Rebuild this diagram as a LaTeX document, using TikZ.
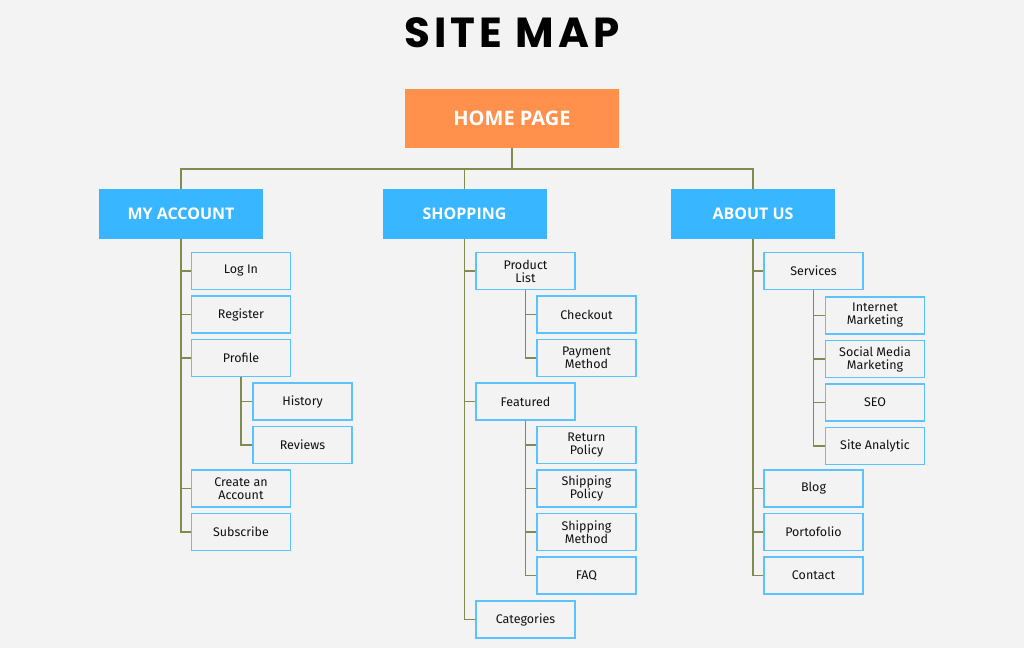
\documentclass[tikz,border=0pt]{standalone}
\usepackage{fontspec}
\setmainfont{Fira Sans}
\newfontfamily\titlefont[LetterSpace=10]{Poppins Bold}
\newfontfamily\headfont{Open Sans Bold}
\usetikzlibrary{positioning, calc}
\definecolor{bgcol}{HTML}{F3F3F3}
\definecolor{homecol}{HTML}{FF914D}
\definecolor{headcol}{HTML}{38B6FF}
\definecolor{leafedge}{HTML}{5CC1FF}
\definecolor{linkcol}{HTML}{7F8B4F}
\definecolor{txtcol}{HTML}{111111}

\tikzset{
  home/.style={fill=homecol, text=white, font=\headfont\fontsize{20}{22}\selectfont, minimum width=214pt, minimum height=59pt, inner sep=0pt, text depth=0pt},
  head/.style={fill=headcol, text=white, font=\headfont\fontsize{16}{18}\selectfont, minimum width=164pt, minimum height=50pt, inner sep=0pt, text depth=0pt},
  leaf/.style={draw=leafedge, line width=1.2pt, fill=bgcol, text=txtcol, font=\fontsize{12.5}{13}\selectfont, align=center, minimum width=99pt, minimum height=37pt, inner sep=0pt},
  link/.style={draw=linkcol, line width=1.3pt}
}

\begin{document}
\begin{tikzpicture}[x=1pt, y=-1pt]
\fill[bgcol] (0,0) rectangle (1024,648);
\useasboundingbox (0,0) rectangle (1024,648);

% Title
\node[font=\titlefont\fontsize{42}{44}\selectfont] (title) at (512,33) {SITE MAP};

% Top levels
\node[home] (home) at (512,118.5) {HOME PAGE};
\coordinate (bus) at (512,169);
\node[head] (acc) at (181,214) {MY ACCOUNT};
\node[head] (shop) at (464.5,214) {SHOPPING};
\node[head] (about) at (753,214) {ABOUT US};

\draw[link] (home.south) -- (bus);
\draw[link] (bus) -| (acc.north);
\draw[link] (bus) -| (shop.north);
\draw[link] (bus) -| (about.north);

% My account
\node[leaf] (login) at (241,271) {Log In};
\node[leaf] (register) at (241,314.5) {Register};
\node[leaf] (profile) at (241,358) {Profile};
\node[leaf] (history) at (302.5,401.5) {History};
\node[leaf] (reviews) at (302.5,445) {Reviews};
\node[leaf] (create) at (241,488.5) {Create an\\Account};
\node[leaf] (subscribe) at (241,532) {Subscribe};

\foreach \n in {login, register, profile, create, subscribe}
  \draw[link] (acc.south) |- (\n.west);
\foreach \n in {history, reviews}
  \draw[link] (profile.south) |- (\n.west);

% Shopping
\node[leaf] (plist) at (525.5,271) {Product\\List};
\node[leaf] (checkout) at (586.5,314.5) {Checkout};
\node[leaf] (payment) at (586.5,358) {Payment\\Method};
\node[leaf] (featured) at (525.5,401.5) {Featured};
\node[leaf] (rpolicy) at (586.5,445) {Return\\Policy};
\node[leaf] (spolicy) at (586.5,488.5) {Shipping\\Policy};
\node[leaf] (smethod) at (586.5,532) {Shipping\\Method};
\node[leaf] (faq) at (586.5,575.5) {FAQ};
\node[leaf] (categ) at (525.5,619.5) {Categories};

\foreach \n in {plist, featured, categ}
  \draw[link] (shop.south) |- (\n.west);
\foreach \n in {checkout, payment}
  \draw[link] (plist.south) |- (\n.west);
\foreach \n in {rpolicy, spolicy, smethod, faq}
  \draw[link] (featured.south) |- (\n.west);

% About us
\node[leaf] (services) at (813.5,271) {Services};
\node[leaf] (imark) at (875,315.5) {Internet\\Marketing};
\node[leaf] (smm) at (875,359) {Social Media\\Marketing};
\node[leaf] (seo) at (875,402.5) {SEO};
\node[leaf] (analytic) at (875,446) {Site Analytic};
\node[leaf] (blog) at (813.5,488.5) {Blog};
\node[leaf] (porto) at (813.5,532) {Portofolio};
\node[leaf] (contact) at (813.5,575.5) {Contact};

\foreach \n in {services, blog, porto, contact}
  \draw[link] (about.south) |- (\n.west);
\foreach \n in {imark, smm, seo, analytic}
  \draw[link] (services.south) |- (\n.west);
\end{tikzpicture}
\end{document}
